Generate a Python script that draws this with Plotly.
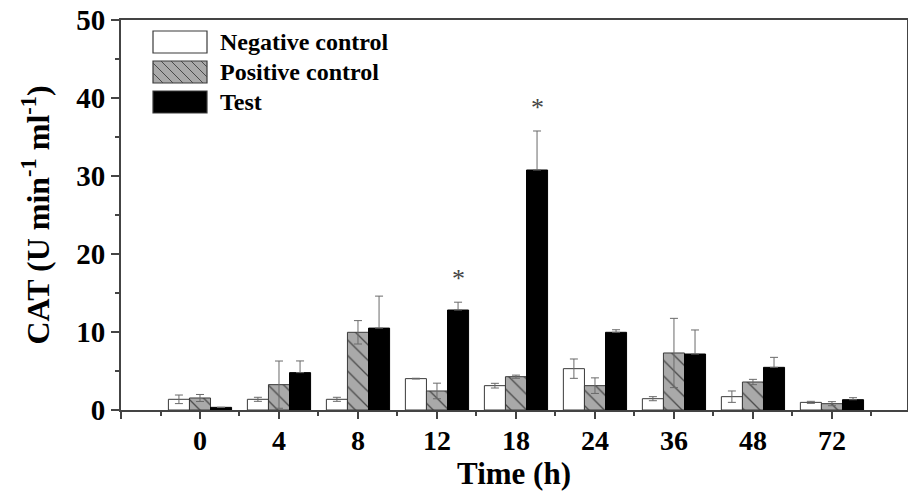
import plotly.graph_objects as go

# ---- data ----
time_labels = ["0", "4", "8", "12", "18", "24", "36", "48", "72"]
negative_control = [1.37, 1.37, 1.37, 4.02, 3.12, 5.30, 1.45, 1.71, 0.98]
negative_err = [0.55, 0.26, 0.26, 0.05, 0.30, 1.24, 0.26, 0.73, 0.13]
positive_control = [1.54, 3.25, 9.96, 2.44, 4.27, 3.12, 7.31, 3.59, 0.81]
positive_err = [0.45, 3.03, 1.50, 1.00, 0.20, 1.00, 4.44, 0.34, 0.26]
test_values = [0.34, 4.79, 10.50, 12.82, 30.77, 9.96, 7.18, 5.47, 1.32]
test_err = [0.0, 1.50, 4.10, 1.00, 5.00, 0.33, 3.08, 1.28, 0.26]
significance = ["", "", "", "*", "*", "", "", "", ""]

series_names = ["Negative control", "Positive control", "Test"]

x_pos = list(range(len(time_labels)))

FONT = "Liberation Serif"
EDGE = "#3a3a3a"
ERRC = "#6a6a6a"

fig = go.Figure()

fig.add_trace(go.Bar(
    x=x_pos, y=negative_control, name=series_names[0],
    marker=dict(color="white", line=dict(color=EDGE, width=1)),
    error_y=dict(type="data", array=negative_err, color=ERRC, thickness=1, width=4),
    showlegend=False,
))
fig.add_trace(go.Bar(
    x=x_pos, y=positive_control, name=series_names[1],
    marker=dict(color="#a9a9a9", line=dict(color=EDGE, width=1),
                pattern=dict(shape="\\", size=11, solidity=0.12,
                             fgcolor="#4a4a4a", bgcolor="#a9a9a9", fillmode="replace")),
    error_y=dict(type="data", array=positive_err, color=ERRC, thickness=1, width=4),
    showlegend=False,
))
fig.add_trace(go.Bar(
    x=x_pos, y=test_values, name=series_names[2],
    marker=dict(color="black", line=dict(color="black", width=1)),
    error_y=dict(type="data", symmetric=False, array=test_err,
                 arrayminus=[0] * len(test_err), color=ERRC, thickness=1, width=4),
    showlegend=False,
))

# significance markers above the Test bars
bar_w = 0.8 / 3
for i, s in enumerate(significance):
    if s:
        fig.add_annotation(
            x=x_pos[i] + bar_w, y=test_values[i] + test_err[i],
            text=s, showarrow=False, yanchor="bottom", yshift=7,
            font=dict(family=FONT, size=26, color="#444444"),
        )

# ---- custom legend (large swatches, like the original) ----
L, R, T, B = 121, 907, 20, 410
def px_x(px):
    return (px - L) / (R - L)
def px_y(py):
    return (B - py) / (B - T)

box_x0, box_x1 = 153, 207
rows = [(31, 53), (61, 83), (91, 113)]
fills = ["white", "#a9a9a9", "black"]
for (y0, y1), fc, name in zip(rows, fills, series_names):
    fig.add_shape(type="rect", xref="paper", yref="paper",
                  x0=px_x(box_x0), x1=px_x(box_x1), y0=px_y(y1), y1=px_y(y0),
                  fillcolor=fc, line=dict(color=EDGE, width=1.2))
    fig.add_annotation(xref="paper", yref="paper", x=px_x(218), y=px_y((y0 + y1) / 2),
                       text=name, showarrow=False, xanchor="left", yanchor="middle",
                       font=dict(family=FONT, size=24, color="black", weight="bold"))

# hatch lines in the "Positive control" legend swatch
hy0, hy1 = rows[1]
h = hy1 - hy0
start = box_x0 - h
while start < box_x1:
    xa, ya = start, hy0
    xb, yb = start + h, hy1
    if xa < box_x0:
        ya = hy0 + (box_x0 - xa); xa = box_x0
    if xb > box_x1:
        yb = hy1 - (xb - box_x1); xb = box_x1
    if xb > xa:
        fig.add_shape(type="line", xref="paper", yref="paper",
                      x0=px_x(xa), y0=px_y(ya), x1=px_x(xb), y1=px_y(yb),
                      line=dict(color="#4a4a4a", width=1))
    start += 10

fig.update_layout(
    width=908, height=496,
    margin=dict(l=L, r=908 - R, t=T, b=496 - B, autoexpand=False),
    paper_bgcolor="white", plot_bgcolor="white",
    barmode="group", bargap=0.2, bargroupgap=0,
    font=dict(family=FONT, color="black"),
)

fig.update_xaxes(
    automargin=False,
    range=[-1, 8.95],
    tickmode="array", tickvals=[-1] + x_pos, ticktext=[""] + time_labels,
    ticks="outside", ticklen=7, tickwidth=1.5, tickcolor="#444",
    minor=dict(tickmode="array", tickvals=[p - 0.5 for p in x_pos] + [x_pos[-1] + 0.5],
               ticks="outside", ticklen=4, tickwidth=1.5, tickcolor="#444"),
    showline=True, linecolor="#444", linewidth=2, mirror=True,
    showgrid=False, zeroline=False,
    tickfont=dict(family=FONT, size=28, weight="bold"),
    ticklabelstandoff=-3,
    title=dict(text="Time (h)", font=dict(family=FONT, size=31, weight="bold"), standoff=1),
)
fig.update_yaxes(
    automargin=False,
    range=[0, 50], tickmode="linear", tick0=0, dtick=10,
    ticks="outside", ticklen=8, tickwidth=1.5, tickcolor="#444",
    minor=dict(dtick=5, ticks="outside", ticklen=4, tickwidth=1.5, tickcolor="#444"),
    showline=True, linecolor="#444", linewidth=2, mirror=True,
    showgrid=False, zeroline=False,
    tickfont=dict(family=FONT, size=29, weight="bold"),
    title=dict(text="CAT (U min<sup>-1</sup> ml<sup>-1</sup>)",
               font=dict(family=FONT, size=32, weight="bold"), standoff=17),
)

fig.write_html(
    "out.html",
    config={"displayModeBar": False},
    post_script="document.body.style.margin='0';document.body.style.overflow='hidden';",
)
